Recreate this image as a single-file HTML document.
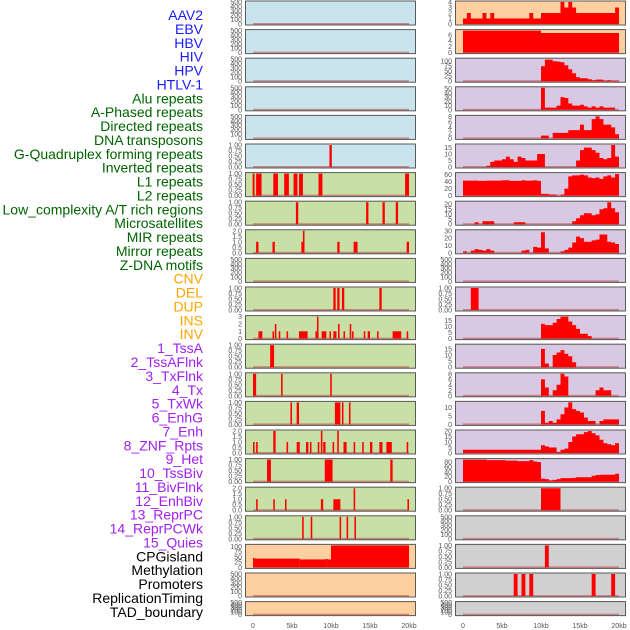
<!DOCTYPE html>
<html><head><meta charset="utf-8"><style>
body{margin:0;background:#fff;}
svg{display:block;font-family:"Liberation Sans",sans-serif;}
</style></head><body>
<svg id="chart" width="630" height="630" viewBox="0 0 630 630" xmlns="http://www.w3.org/2000/svg"></svg>
<script>
// ---------- data ----------
const trackLabels = ["AAV2","EBV","HBV","HIV","HPV","HTLV-1","Alu repeats","A-Phased repeats","Directed repeats","DNA transposons","G-Quadruplex forming repeats","Inverted repeats","L1 repeats","L2 repeats","Low_complexity A/T rich regions","Microsatellites","MIR repeats","Mirror repeats","Z-DNA motifs","CNV","DEL","DUP","INS","INV","1_TssA","2_TssAFlnk","3_TxFlnk","4_Tx","5_TxWk","6_EnhG","7_Enh","8_ZNF_Rpts","9_Het","10_TssBiv","11_BivFlnk","12_EnhBiv","13_ReprPC","14_ReprPCWk","15_Quies","CPGisland","Methylation","Promoters","ReplicationTiming","TAD_boundary"];
const labelColors = ["#1a1aff","#006400","#ffa500","#a020f0","#000000"];
const labelGroupSizes = [6,13,5,15,5];
const xTickLabels = ["0","5kb","10kb","15kb","20kb"];
const xTickKb = [0,5,10,15,20];
const leftBg = ["b","b","b","b","b","b","g","g","g","g","g","g","g","g","g","g","g","g","g","o","o","o"];
const rightBg = ["o","o","p","p","p","p","p","p","p","p","p","p","p","p","p","p","p","y","y","y","y","y"];
const E = [0,100,200,300,400,500], F = [0,0.25,0.5,0.75,1], T2 = [0,0.5,1,1.5,2];
const leftTicks = [E,E,E,E,E,F,F,F,T2,E,F,[0,1,2,3],F,F,F,T2,F,T2,F,[0,25,50,75,100],E,E];
const leftMax = [500,500,500,500,500,1,1,1,2,500,1,3,1,1,1,2,1,2,1,105,500,500];
const rightTicks = [[0,1,2,3,4],[0,2,4,6],[0,25,50,75,100],[0,10,20,30,40,50],[0,2,4,6,8],[0,5,10,15],[0,20,40,60],[0,5,10,15,20],[0,10,20,30],E,F,[0,5,10,15],[0,5,10,15],[0,2,4,6,8],[0,5,10],[0,5,10,15,20],[0,20,40,60,80],F,E,F,F,E];
const rightMax = [4,7.4,110,52,8,17,63,22,30,500,1,18,18,8,13,20,90,1,500,1,1,500];
// left bars: [startKb, endKb, value]
const leftBars = [
 [],[],[],[],[],
 [[9.8,10.1,1]],
 [[-0.05,0.2,1],[0.4,1.1,1],[2.6,3.2,1],[4.0,4.6,1],[5.2,5.7,1],[5.9,6.4,1],[8.4,8.9,1],[19.5,20.0,1]],
 [[5.5,5.8,1],[14.5,14.8,1],[16.6,16.9,1],[18.3,18.6,1]],
 [[0.4,0.7,1],[2.5,2.8,1],[6.2,6.6,1],[6.4,6.6,2],[10.8,11.1,1],[12.9,13.4,1],[19.7,20.0,1]],
 [],
 [[10.3,10.6,1],[10.8,11.1,1],[11.4,11.7,1],[16.2,16.5,1]],
 [[0.7,1.2,1],[2.5,2.7,1],[2.8,3.0,2],[3.3,3.5,1],[4.3,4.5,1],[5.9,7.0,1],[8.0,8.2,1],[8.2,8.4,3],[8.8,9.4,1],[9.8,10.0,1],[10.3,10.7,1],[10.9,11.1,2],[11.6,11.8,1],[12.4,12.6,2],[12.7,12.9,1],[14.2,14.4,1],[14.7,15.0,1],[15.9,16.1,1],[17.9,19.0,1],[19.7,19.9,1]],
 [[2.2,2.7,1]],
 [[0.0,0.4,1],[3.6,3.8,1],[9.9,10.1,1]],
 [[4.8,5.0,1],[5.6,5.9,1],[10.5,11.2,1],[11.4,11.6,1],[12.3,12.5,1]],
 [[0.0,0.2,1],[0.4,0.6,1],[2.6,2.9,2],[4.3,4.5,1],[5.6,6.0,1],[6.8,7.1,1],[7.3,7.5,1],[8.3,8.5,1],[8.7,8.9,2],[9.0,9.3,1],[10.2,10.4,1],[10.8,11.0,2],[11.6,12.0,1],[12.9,13.1,1],[14.0,14.2,1],[15.0,15.3,1],[16.2,16.6,1],[17.1,17.8,1],[19.7,19.9,1]],
 [[1.8,2.3,1],[9.2,10.2,1],[17.6,17.9,1]],
 [[0.4,0.6,1],[2.6,2.8,1],[4.1,4.3,1],[8.7,9.0,1],[10.3,11.2,1],[12.9,13.1,2],[19.8,20.0,1]],
 [[6.3,6.5,1],[7.4,7.6,1],[11.1,11.3,1],[12.0,12.2,1],[13.0,13.2,1]],
 [[0,0.2,45],[0.2,6,42],[6,9.3,38],[9.3,9.6,40],[9.6,10,38],[10,20,105]],
 [],[]
];
// right tracks: 40 bins of 0.5kb
const rightBins = [
 [1,2,1,1,1,2,1,2,1,1,1,1,1,1,1,1,1,2,1,1,2,2,2,2,2,4,3,4,3,2,2,2,2,2,2,2,2,2,2,3],
 [7.4,7.4,7.4,7.4,7.4,7.4,7.4,7.4,7.4,7.4,7.4,7.4,7.4,7.4,7.4,7.4,7.4,7.4,7.4,7.4,6.6,6.6,6.6,6.6,6.6,6.6,6.6,6.6,6.6,6.6,6.6,6.6,6.6,6.6,6.6,6.6,6.6,6.6,6.6,6.6],
 [0,0,0,0,0,0,0,0,0,0,0,0,0,0,0,0,0,0,0,0,75,108,108,100,98,95,80,60,40,20,15,15,10,5,8,8,3,5,2,2],
 [0,0,0,0,0,0,0,0,0,0,0,0,0,0,0,0,0,0,0,0,52,5,5,5,10,30,28,15,10,10,12,8,5,8,5,8,5,5,5,0],
 [0,0,0,0,0,0,0,0,0,0,0,0,0,0,0,0,0,0,0,0,1,1,0,2,2,2,2,3,3,3,5,3,3,7,8,7,5,5,4,1.5],
 [0,0,0,0,0,0,1,4,5,5,6,8,6,4,8,7,5,5,5,10,10,0,0,0,0,0,0,0,0,5,13,15,15,13,11,7,6,7,17,8],
 [43,43,43,43,42,42,43,43,43,43,44,44,42,42,42,44,43,43,44,42,5,5,3,3,0,3,20,55,58,58,60,58,52,50,52,48,55,58,52,62],
 [0,0,0,2,0,3,3,3,0,0,0,0,0,2,2,2,0,0,0,0,0,0,0,0,0,0,0,0,3,6,9,11,11,9,10,15,16,22,16,12],
 [2,0,3,5,4,3,5,3,0,0,0,0,0,0,0,3,4,0,8,7,28,6,0,0,0,2,4,7,14,22,20,15,15,17,18,25,25,15,14,12],
 [0,0,0,0,0,0,0,0,0,0,0,0,0,0,0,0,0,0,0,0,0,0,0,0,0,0,0,0,0,0,0,0,0,0,0,0,0,0,0,0],
 [0,0,1,1,0,0,0,0,0,0,0,0,0,0,0,0,0,0,0,0,0,0,0,0,0,0,0,0,0,0,0,0,0,0,0,0,0,0,0,0],
 [0,0,0,0,0,0,0,0,0,0,0,0,0,0,0,0,0,0,0,0,12,11,11,13,16,18,18,14,11,8,4,4,2,0,0,0,0,0,0,0],
 [0,0,0,0,0,0,0,0,0,0,0,0,0,0,0,0,0,0,0,0,15,3,0,10,12,14,11,9,4,0,0,0,0,0,0,0,0,0,0,0],
 [0,0,0,0,0,0,0,0,0,0,0,0,0,0,0,0,0,0,0,0,6,3,0,2,4,8,7,0,0,0,0,0,0,0,2,3,2,2,0,0],
 [0,0,0,0,0,0,0,0,0,0,0,0,0,0,0,0,0,0,0,0,8,1,2,1,3,6,10,13,9,8,7,4,2,2,0,2,3,3,3,3],
 [3,3,3,3,3,3,3,3,3,3,3,3,3,3,3,3,3,3,3,3,7,6,5,5,1,3,4,10,15,17,17,19,20,18,16,12,9,8,7,9],
 [90,90,90,90,90,90,88,88,88,88,88,86,86,86,84,84,84,88,82,80,12,10,5,7,10,14,14,14,15,18,18,18,18,24,27,28,28,28,28,32],
 [0,0,0,0,0,0,0,0,0,0,0,0,0,0,0,0,0,0,0,0,1,1,1,1,1,0,0,0,0,0,0,0,0,0,0,0,0,0,0,0],
 [0,0,0,0,0,0,0,0,0,0,0,0,0,0,0,0,0,0,0,0,0,0,0,0,0,0,0,0,0,0,0,0,0,0,0,0,0,0,0,0],
 [0,0,0,0,0,0,0,0,0,0,0,0,0,0,0,0,0,0,0,0,0,1,0,0,0,0,0,0,0,0,0,0,0,0,0,0,0,0,0,0],
 [0,0,0,0,0,0,0,0,0,0,0,0,0,1,0,1,0,1,0,0,0,0,0,0,0,0,0,0,0,0,0,0,0,1,0,0,0,0,1,0],
 [0,0,0,0,0,0,0,0,0,0,0,0,0,0,0,0,0,0,0,0,0,0,0,0,0,0,0,0,0,0,0,0,0,0,0,0,0,0,0,0]
];
// ---------- drawing ----------
const NS="http://www.w3.org/2000/svg";
const svg=document.getElementById('chart');
const bgColors={b:"#c9e4ec",g:"#c8e0a6",o:"#ffd09f",p:"#d8c8e2",y:"#d0d0d0"};
function el(tag,attrs,parent){const e=document.createElementNS(NS,tag);for(const k in attrs)e.setAttribute(k,attrs[k]);(parent||svg).appendChild(e);return e;}
const PX_PER_KB=7.8;
const xScaleL=kb=>253+kb*PX_PER_KB;
const xScaleR=kb=>463+kb*PX_PER_KB;
function rowTop(i){return i*28.6+0.5;}
function rowH(i){return i===21?15:25;}
function yScale(i,v,max){const b=rowTop(i)+rowH(i)-1.5;return b-(v/max)*(rowH(i)-3);}
function fmt(t,ticks){const mx=ticks[ticks.length-1];if(mx===1)return t.toFixed(2);if(ticks.includes(0.5)||ticks.includes(1.5))return t.toFixed(1);return String(t);}

// labels
let li=0;
labelGroupSizes.forEach((n,g)=>{for(let k=0;k<n;k++){const y=15+li*13.88;
 const t=el('text',{x:203,y:y+5,'text-anchor':'end','font-size':14,fill:labelColors[g]});
 t.textContent=trackLabels[li];
 
 
 li++;}});

function panel(i,side){
 const x0=side==='L'?245:455, w=171;
 const xs=side==='L'?xScaleL:xScaleR;
 const top=rowTop(i), h=rowH(i);
 const max=side==='L'?leftMax[i]:rightMax[i];
 const ticks=side==='L'?leftTicks[i]:rightTicks[i];
 const g=el('g',{});
 
 
 el('rect',{x:x0,y:top,width:w,height:h,fill:bgColors[(side==='L'?leftBg:rightBg)[i]]},g);
 // baseline
 el('rect',{x:xs(0),y:yScale(i,0,max)-1,width:xs(20)-xs(0),height:1.8,fill:"rgba(190,70,70,0.55)"},g);
 if(side==='L'){
  leftBars[i].forEach(b=>{const y=yScale(i,Math.min(b[2],max),max);
   const r=el('rect',{x:xs(b[0]),y:y,width:Math.max(1.5,xs(b[1])-xs(b[0])),height:yScale(i,0,max)-y,fill:"#ff0000"},g);
   
   });
 } else {
  let d="";const base=yScale(i,0,max);
  rightBins[i].forEach((v,k)=>{if(v<=0)return;const y=yScale(i,Math.min(v,max),max);
   d+=`M${xs(k*0.5)},${base}V${y}H${xs(k*0.5+0.5)}V${base}Z`;});
  if(d){const p=el('path',{d:d,fill:"#ff0000"},g);
   
   }
 }
 el('rect',{x:x0+0.5,y:top+0.5,width:w-1,height:h-1,fill:"none",stroke:"#5a5a5a","stroke-width":1},g);
 ticks.forEach(t=>{const y=yScale(i,t,max);
  const tx=el('text',{x:x0-3,y:y+2.5,'text-anchor':'end','font-size':7,fill:"#555"},g);
  tx.textContent=fmt(t,ticks);
  
  });
}
for(let i=0;i<22;i++){panel(i,'L');panel(i,'R');}
[xScaleL,xScaleR].forEach(xs=>{xTickKb.forEach((kb,k)=>{
 const t=el('text',{x:xs(kb),y:628,'text-anchor':'middle','font-size':7,fill:"#555"});
 t.textContent=xTickLabels[k];
 
 });});
</script>
</body></html>
